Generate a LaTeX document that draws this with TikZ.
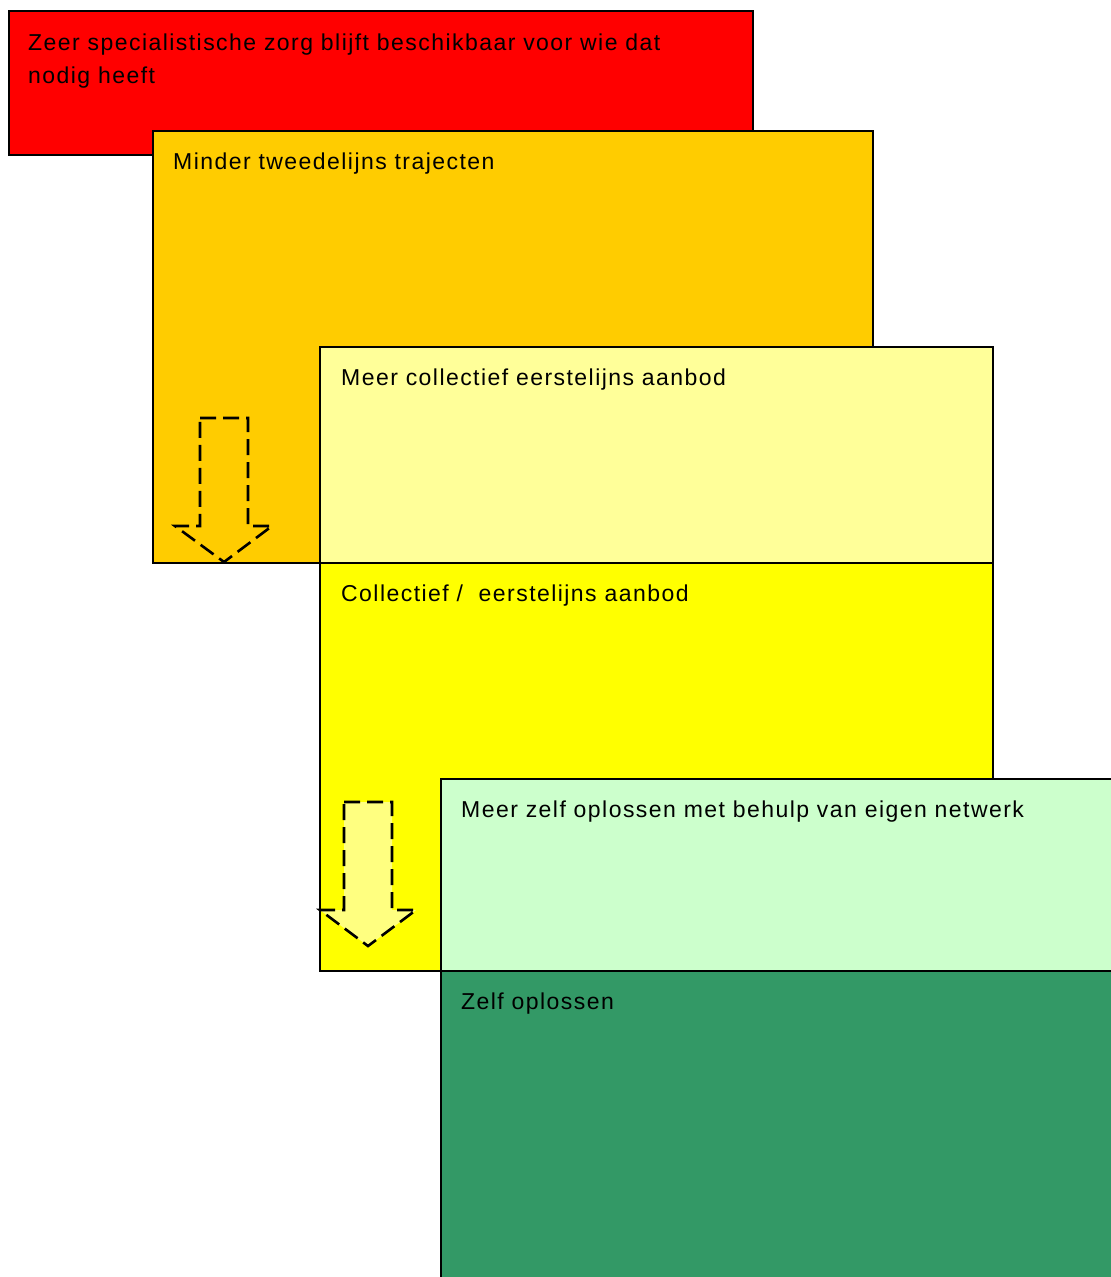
\documentclass[tikz,border=0pt]{standalone}
\usepackage{fontspec}
\setmainfont[LetterSpace=6.3]{Liberation Sans}
\definecolor{cRed}{HTML}{FF0000}
\definecolor{cOrange}{HTML}{FFCC00}
\definecolor{cPaleYellow}{HTML}{FFFF99}
\definecolor{cYellow}{HTML}{FFFF00}
\definecolor{cPaleGreen}{HTML}{CCFFCC}
\definecolor{cGreen}{HTML}{339966}
\definecolor{cArrowFill}{HTML}{FFFF80}
\tikzset{
  layer/.style={draw=black, line width=2pt, rectangle, inner sep=0pt, anchor=north west},
  lbl/.style={anchor=base west, inner sep=0pt, font=\fontsize{23}{33}\selectfont},
  dasharrow/.style={draw=black, line width=2.6pt, dash pattern=on 16pt off 7pt, line join=miter},
}
\begin{document}
\begin{tikzpicture}[x=1pt, y=-1pt]
  \useasboundingbox (0,0) rectangle (1111,1277);
  \clip (0,0) rectangle (1111,1277);
  % stacked layers, back to front
  \node[layer, fill=cRed, minimum width=744pt, minimum height=144pt] (red) at (8,10) {};
  \node[lbl] (redA) at (28,50) {Zeer specialistische zorg blijft beschikbaar voor wie dat};
  \node[lbl] (redB) at (28,83) {nodig heeft};

  \node[layer, fill=cOrange, minimum width=720pt, minimum height=432pt] (orange) at (152,130) {};
  \node[lbl] (orangeT) at (173,169) {Minder tweedelijns trajecten};

  \node[layer, fill=cPaleYellow, minimum width=673pt, minimum height=216pt] (paleyel) at (319,346) {};
  \node[lbl] (paleyelT) at (341,385) {Meer collectief eerstelijns aanbod};

  \node[layer, fill=cYellow, minimum width=673pt, minimum height=408pt] (yellow) at (319,562) {};
  \node[lbl] (yellowT) at (341,601) {Collectief /\ \ eerstelijns aanbod};

  \node[layer, fill=cPaleGreen, minimum width=700pt, minimum height=192pt] (palegreen) at (440,778) {};
  \node[lbl] (palegreenT) at (461,817) {Meer zelf oplossen met behulp van eigen netwerk};

  \node[layer, fill=cGreen, minimum width=700pt, minimum height=340pt] (green) at (440,970) {};
  \node[lbl] (greenT) at (461,1009) {Zelf oplossen};

  % dashed block arrows
  \draw[dasharrow] (200,418) -- (248,418) -- (248,526) -- (272,526) -- (224,562)
    -- (175,526) -- (200,526) -- cycle;
  \draw[dasharrow, fill=cArrowFill] (344,802) -- (392,802) -- (392,910) -- (416,910)
    -- (368,946) -- (320,910) -- (344,910) -- cycle;
\end{tikzpicture}
\end{document}
